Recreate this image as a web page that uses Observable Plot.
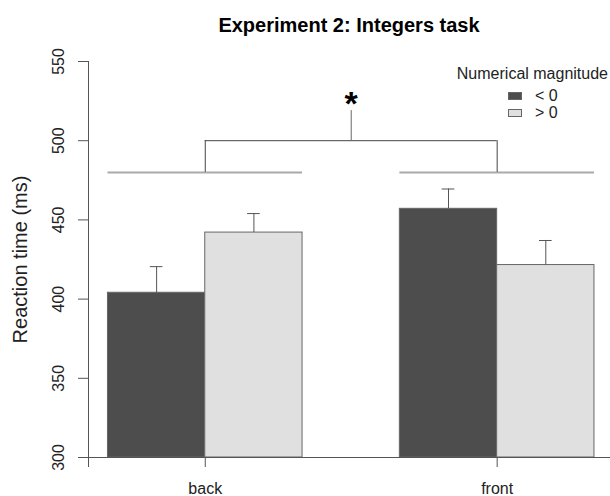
<!DOCTYPE html>
<html><head><meta charset="utf-8">
<script src="https://cdn.jsdelivr.net/npm/d3@7"></script>
<script src="https://cdn.jsdelivr.net/npm/@observablehq/plot@0.6"></script>
<style>
html,body{margin:0;padding:0;background:#fff;overflow:hidden;}
#chart{position:relative;width:610px;height:496px;font-family:"Liberation Sans",Arial,sans-serif;color:#000;}
#chart svg{position:absolute;left:0;top:0;}
.ov{position:absolute;white-space:nowrap;}
#title{left:349px;top:15px;transform:translateX(-50%);font-size:20px;line-height:20px;font-weight:bold;}
#legtitle{right:2px;top:66px;font-size:16px;line-height:16px;color:#222;}
.key{position:absolute;left:508px;width:12px;height:6px;border:1px solid #666;}
.klab{left:535px;font-size:16px;line-height:16px;color:#222;}
</style></head><body><div id="chart"></div>
<script>
// ---- data ----
const conditions = ["back", "front"];
const magnitudes = ["< 0", "> 0"];
const meanNeg = [404, 457];     // Numerical magnitude < 0
const meanPos = [442, 421.5];   // Numerical magnitude > 0
const seNeg = [16.5, 12.5];
const sePos = [12, 15.5];
const yTicks = [300, 350, 400, 450, 500, 550];
const groupLineY = 480;   // grey line over each condition
const bracketY = 500;     // significance bracket
const stemTopY = 519;
const starY = 528;
const colors = ["#4d4d4d", "#e0e0e0"];
const titleText = "Experiment 2: Integers task";
const yLabel = "Reaction time (ms)";
const legendTitle = "Numerical magnitude";

// ---- derived tables ----
const bars = [];
conditions.forEach((c, g) => {
  [meanNeg[g], meanPos[g]].forEach((m, s) => {
    const x1 = 1 + g * 3 + s;
    bars.push({cond: c, mag: magnitudes[s], x1, x2: x1 + 1, xc: x1 + 0.5, mean: m,
               top: m + (s === 0 ? seNeg[g] : sePos[g])});
  });
});
const groups = conditions.map((c, g) => ({cond: c, x: 2 + g * 3, x1: 1 + g * 3, x2: 3 + g * 3}));
const mid = (groups[0].x + groups[1].x) / 2;
const capHalf = 0.065;

const plot = Plot.plot({
  width: 610, height: 496,
  marginLeft: 88, marginRight: 0, marginTop: 61, marginBottom: 39,
  style: {fontFamily: '"Liberation Sans", Arial, sans-serif', background: "transparent"},
  x: {type: "linear", domain: [0.8, 6.2], range: [88, 88 + 5.4 * 97.3], axis: null},
  y: {domain: [300, 550], axis: null},
  color: {domain: magnitudes, range: colors},
  marks: [
    Plot.rectY(bars, {x1: "x1", x2: "x2", y1: 300, y2: "mean", fill: "mag", stroke: "#666", strokeWidth: 1}),
    Plot.ruleX(bars, {x: "xc", y1: "mean", y2: "top", stroke: "#555"}),
    Plot.ruleY(bars, {y: "top", x1: d => d.xc - capHalf, x2: d => d.xc + capHalf, stroke: "#555"}),
    // grey group lines
    Plot.ruleY(groups, {y: groupLineY, x1: "x1", x2: "x2", stroke: "#aaa", strokeWidth: 2}),
    // bracket
    Plot.ruleX(groups, {x: "x", y1: groupLineY, y2: bracketY, stroke: "#444"}),
    Plot.ruleY([bracketY], {x1: groups[0].x, x2: groups[1].x, stroke: "#444"}),
    Plot.ruleX([mid], {y1: bracketY, y2: stemTopY, stroke: "#666"}),
    Plot.text(["*"], {x: mid, y: starY, text: d => d, fontSize: 34, fontWeight: "bold", lineAnchor: "middle", dy: 8}),
    // axes
    Plot.ruleX([0.8], {y1: 300, y2: 550, stroke: "#555"}),
    Plot.axisY({ticks: yTicks, tickSize: 10, tickFormat: () => "", label: null, stroke: "#555"}),
    Plot.text(yTicks, {y: d => d, text: d => String(d), frameAnchor: "left", textAnchor: "middle", lineAnchor: "middle", dx: -30, rotate: -90, fontSize: 16, fill: "#222"}),
    Plot.text([yLabel], {y: 425, text: d => d, frameAnchor: "left", textAnchor: "middle", lineAnchor: "middle", dx: -68, rotate: -90, fontSize: 20, fill: "#222"}),
    Plot.ruleY([300], {stroke: "#555"}),
    Plot.axisX({ticks: [0.8, 2, 5], tickSize: 10, tickFormat: () => "", label: null, stroke: "#555"}),
    Plot.text(groups, {x: "x", text: "cond", frameAnchor: "bottom", dy: 36, fontSize: 16, fill: "#222"})
  ]
});

const root = document.getElementById("chart");
root.appendChild(plot);

function addDiv(cls, id, text, style) {
  const d = document.createElement("div");
  d.className = cls; if (id) d.id = id; if (text) d.textContent = text;
  if (style) Object.assign(d.style, style);
  root.appendChild(d);
  return d;
}
addDiv("ov", "title", titleText);
addDiv("ov", "legtitle", legendTitle);
magnitudes.forEach((m, i) => {
  addDiv("key", null, null, {top: (92 + i * 17) + "px", background: colors[i]});
  addDiv("ov klab", null, m, {top: (88 + i * 17) + "px"});
});
</script></body></html>
